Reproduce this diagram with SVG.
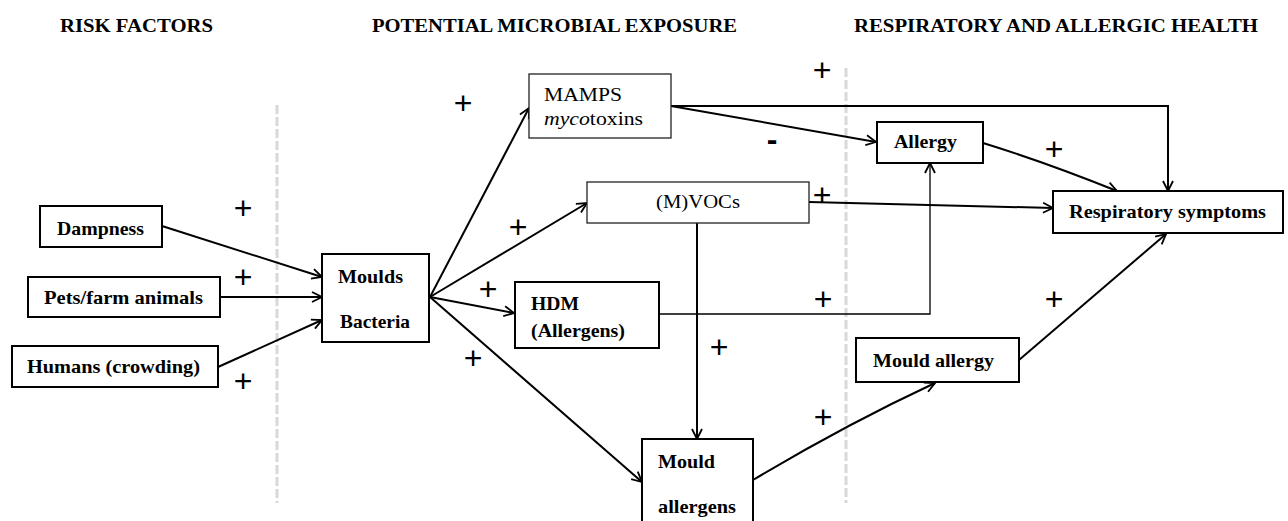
<svg xmlns="http://www.w3.org/2000/svg" width="1288" height="521" viewBox="0 0 1288 521">
<defs>
<marker id="arr" viewBox="0 0 12 12" refX="11" refY="6" markerWidth="12" markerHeight="12" markerUnits="userSpaceOnUse" orient="auto">
<path d="M1,1 L11,6 L1,11" fill="none" stroke="#000" stroke-width="1.8"/>
</marker>
<style>
.hdr{font-family:"Liberation Serif",serif;font-weight:bold;font-size:19px;fill:#000}
.t{font-family:"Liberation Serif",serif;font-weight:bold;font-size:19px;fill:#000}
.tn{font-family:"Liberation Serif",serif;font-weight:normal;font-size:19px;fill:#000}
.box{fill:#fff;stroke:#000;stroke-width:2}
.boxl{fill:#fff;stroke:#222;stroke-width:1.3}
.c{fill:none;stroke:#000;stroke-width:2}
.cl{fill:none;stroke:#000;stroke-width:1.3}
.sep{stroke:#d8d8d8;stroke-width:3;stroke-dasharray:9,3}
.pl{font-family:"Liberation Sans",sans-serif;font-size:32px;fill:#000}
</style>
</defs>
<rect width="1288" height="521" fill="#fff"/>
<g id="headers">
<text class="hdr" x="60" y="32" textLength="153" lengthAdjust="spacingAndGlyphs">RISK FACTORS</text>
<text class="hdr" x="372" y="32" textLength="365" lengthAdjust="spacingAndGlyphs">POTENTIAL MICROBIAL EXPOSURE</text>
<text class="hdr" x="854" y="32" textLength="404" lengthAdjust="spacingAndGlyphs">RESPIRATORY AND ALLERGIC HEALTH</text>
</g>
<g id="separators">
<line class="sep" x1="277" y1="105" x2="277" y2="503"/>
<line class="sep" x1="846" y1="68" x2="846" y2="503"/>
</g>
<g id="connectors">
<path class="c" d="M162,226 L322,277" marker-end="url(#arr)"/>
<path class="c" d="M220,297 L322,297" marker-end="url(#arr)"/>
<path class="c" d="M218,367 L322,320" marker-end="url(#arr)"/>
<path class="c" d="M430,297 L529,108" marker-end="url(#arr)"/>
<path class="c" d="M430,297 L587,203" marker-end="url(#arr)"/>
<path class="c" d="M430,297 L514,313" marker-end="url(#arr)"/>
<path class="c" d="M430,297 L642,482" marker-end="url(#arr)"/>
<path class="c" d="M671,106 L1168,106 L1168,191" marker-end="url(#arr)"/>
<path class="c" d="M671,106 L876,142" marker-end="url(#arr)"/>
<path class="c" d="M809,202 L1053,208" marker-end="url(#arr)"/>
<path class="c" d="M697,223 L697,439" marker-end="url(#arr)"/>
<path class="cl" d="M659,314 L930,314 L930,163" marker-end="url(#arr)"/>
<path class="c" d="M983,143 Q1045,162 1117,191" marker-end="url(#arr)"/>
<path class="c" d="M1019,360 Q1095,295 1166,234" marker-end="url(#arr)"/>
<path class="c" d="M753,480 Q845,425 935,383" marker-end="url(#arr)"/>
</g>
<g id="n-dampness"><rect class="box" x="40" y="206" width="122" height="41"/><text class="t" x="57" y="235" textLength="87" lengthAdjust="spacingAndGlyphs">Dampness</text></g>
<g id="n-pets"><rect class="box" x="28" y="277" width="192" height="40"/><text class="t" x="44" y="304" textLength="159" lengthAdjust="spacingAndGlyphs">Pets/farm animals</text></g>
<g id="n-humans"><rect class="box" x="12" y="346" width="206" height="41"/><text class="t" x="27" y="373" textLength="173" lengthAdjust="spacingAndGlyphs">Humans (crowding)</text></g>
<g id="n-moulds"><rect class="box" x="322" y="254" width="107" height="88"/><text class="t" x="338" y="283" textLength="65" lengthAdjust="spacingAndGlyphs">Moulds</text><text class="t" x="340" y="328" textLength="70" lengthAdjust="spacingAndGlyphs">Bacteria</text></g>
<g id="n-mamps"><rect class="boxl" x="529" y="74" width="142" height="64"/><text class="tn" x="544" y="101" textLength="78" lengthAdjust="spacingAndGlyphs">MAMPS</text><text class="tn" x="544" y="125" textLength="99" lengthAdjust="spacingAndGlyphs"><tspan font-style="italic">myco</tspan>toxins</text></g>
<g id="n-mvocs"><rect class="boxl" x="587" y="182" width="222" height="41"/><text class="tn" x="656" y="208" textLength="84" lengthAdjust="spacingAndGlyphs">(M)VOCs</text></g>
<g id="n-hdm"><rect class="box" x="515" y="282" width="144" height="66"/><text class="t" x="531" y="310" textLength="48" lengthAdjust="spacingAndGlyphs">HDM</text><text class="t" x="531" y="337" textLength="94" lengthAdjust="spacingAndGlyphs">(Allergens)</text></g>
<g id="n-mouldallergens"><rect class="box" x="642" y="439" width="111" height="95"/><text class="t" x="658" y="468" textLength="57" lengthAdjust="spacingAndGlyphs">Mould</text><text class="t" x="658" y="513" textLength="78" lengthAdjust="spacingAndGlyphs">allergens</text></g>
<g id="n-allergy"><rect class="box" x="877" y="122" width="106" height="41"/><text class="t" x="894" y="148" textLength="63" lengthAdjust="spacingAndGlyphs">Allergy</text></g>
<g id="n-resp"><rect class="box" x="1053" y="191" width="230" height="42"/><text class="t" x="1069" y="218" textLength="197" lengthAdjust="spacingAndGlyphs">Respiratory symptoms</text></g>
<g id="n-mouldallergy"><rect class="box" x="856" y="338" width="163" height="44"/><text class="t" x="873" y="367" textLength="121" lengthAdjust="spacingAndGlyphs">Mould allergy</text></g>
<g id="labels">
<text class="pl" x="243" y="219" text-anchor="middle">+</text>
<text class="pl" x="243" y="288" text-anchor="middle">+</text>
<text class="pl" x="243" y="392" text-anchor="middle">+</text>
<text class="pl" x="463" y="114" text-anchor="middle">+</text>
<text class="pl" x="518" y="238" text-anchor="middle">+</text>
<text class="pl" x="488" y="300" text-anchor="middle">+</text>
<text class="pl" x="473" y="369" text-anchor="middle">+</text>
<text class="pl" x="719" y="358" text-anchor="middle">+</text>
<text class="pl" x="823" y="310" text-anchor="middle">+</text>
<text class="pl" x="823" y="428" text-anchor="middle">+</text>
<text class="pl" x="822" y="81" text-anchor="middle">+</text>
<text class="pl" x="822" y="206" text-anchor="middle">+</text>
<text class="pl" x="1054" y="160" text-anchor="middle">+</text>
<text class="pl" x="1054" y="310" text-anchor="middle">+</text>
<text class="pl" x="772" y="150" text-anchor="middle" font-weight="bold">-</text>
</g>
</svg>
